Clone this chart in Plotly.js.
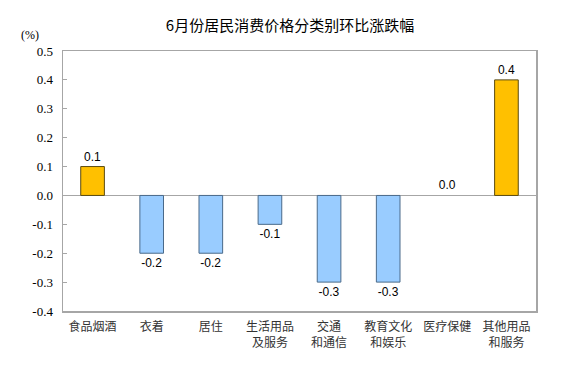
<!DOCTYPE html>
<html><head><meta charset="utf-8">
<script src="https://cdn.plot.ly/plotly-3.0.1.min.js"></script>
<style>body{margin:0;background:#fff}#c{width:580px;height:367px}</style>
</head><body><div id="c"></div>
<script>
const categories = ["食品烟酒","衣着","居住","生活用品<br>及服务","交通<br>和通信","教育文化<br>和娱乐","医疗保健","其他用品<br>和服务"];
const values = [0.1,-0.2,-0.2,-0.1,-0.3,-0.3,0.0,0.4];
const labels = ["0.1","-0.2","-0.2","-0.1","-0.3","-0.3","0.0","0.4"];
const yTicks = [-0.4,-0.3,-0.2,-0.1,0.0,0.1,0.2,0.3,0.4,0.5];
const yTickText = ["-0.4","-0.3","-0.2","-0.1","0.0","0.1","0.2","0.3","0.4","0.5"];

const fill = values.map(v => v >= 0 ? "#FFC000" : "#99CCFF");
const edge = values.map(v => v >= 0 ? "#5a4a10" : "#4a6a8a");
const edgeW = values.map(v => v === 0 ? 0 : 1);

Plotly.newPlot("c", [{
  type: "bar", x: categories, y: values, width: 0.4,
  marker: {color: fill, line: {color: edge, width: edgeW}},
  text: labels, textposition: "outside", cliponaxis: false,
  textfont: {family: "Liberation Sans, Arial", size: 12, color: "#000"}
}], {
  width: 580, height: 367,
  margin: {l: 63, r: 44, t: 51, b: 56},
  paper_bgcolor: "#fff", plot_bgcolor: "#fff",
  showlegend: false,
  font: {family: "Noto Sans CJK SC", size: 11, color: "#222"},
  title: {text: "6月份居民消费价格分类别环比涨跌幅", x: 0.5, xanchor: "center", y: 0.93, yanchor: "middle",
          font: {family: "Noto Sans CJK SC", size: 15, color: "#000"}},
  xaxis: {showline: true, mirror: true, linecolor: "#A6A6A6", linewidth: 1.5,
          ticks: "", tickfont: {family: "Noto Sans CJK SC", size: 12, color: "#333"},
          tickangle: 0, fixedrange: true, ticklabelstandoff: 4},
  yaxis: {range: [-0.4, 0.5], tickvals: yTicks, ticktext: yTickText,
          showline: true, mirror: true, linecolor: "#A6A6A6", linewidth: 1.5,
          ticks: "inside", ticklen: 4, tickcolor: "#A6A6A6",
          showgrid: false, zeroline: true, zerolinecolor: "#A6A6A6", zerolinewidth: 1.2,
          tickfont: {family: "Liberation Serif, Times New Roman", size: 13, color: "#000"},
          ticklabelstandoff: 6},
  annotations: [{text: "(%)", xref: "paper", yref: "paper", x: -0.07, y: 1.06,
                 xanchor: "center", yanchor: "middle", showarrow: false,
                 font: {family: "Liberation Serif", size: 12, color: "#000"}}]
}, {displayModeBar: false, staticPlot: true});
</script></body></html>
